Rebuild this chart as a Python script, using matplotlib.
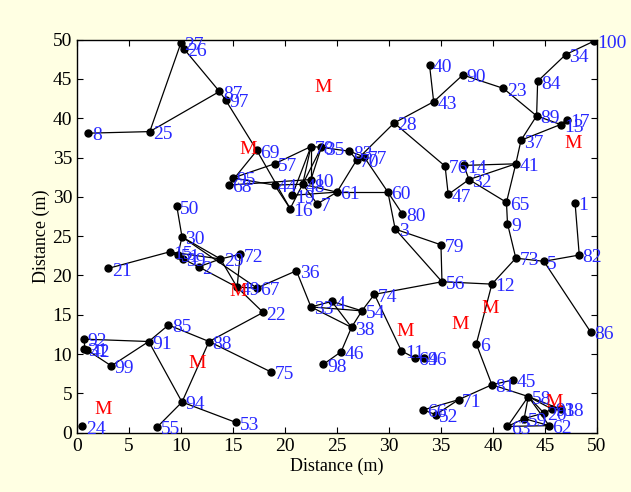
import matplotlib
matplotlib.use("Agg")
import matplotlib.pyplot as plt

# Sensor node ids and positions (m)
node_ids = [27, 26, 87, 97, 8, 25, 69, 57, 95, 68, 44, 78, 35, 83, 77, 70, 10, 48, 19, 16,
            7, 61, 60, 80, 3, 28, 40, 43, 90, 23, 89, 84, 34, 100, 17, 13, 37, 41, 76, 14,
            32, 47, 65, 9, 1, 82, 73, 5, 79, 56, 12, 86, 6, 11, 64, 96, 81, 45, 58, 18,
            93, 20, 59, 63, 62, 71, 66, 52, 92, 31, 42, 99, 91, 85, 88, 22, 75, 94, 53, 55,
            24, 50, 30, 21, 15, 51, 39, 2, 29, 72, 49, 67, 36, 33, 4, 54, 38, 46, 98, 74]
node_x = [10.0, 10.3, 13.7, 14.3, 1.1, 7.0, 17.3, 19.0, 15.0, 14.6, 19.0, 22.5, 23.5, 26.2, 27.6, 26.9, 22.5, 21.7, 20.7, 20.5,
          23.1, 25.0, 29.9, 31.3, 30.6, 30.5, 33.9, 34.3, 37.1, 41.0, 44.2, 44.3, 47.0, 49.7, 47.1, 46.5, 42.7, 42.2, 35.4, 37.2,
          37.7, 35.7, 41.3, 41.4, 47.9, 48.3, 42.2, 44.9, 35.0, 35.1, 39.9, 49.4, 38.4, 31.2, 32.5, 33.4, 39.9, 41.9, 43.4, 46.5,
          45.7, 44.9, 43.0, 41.4, 45.4, 36.7, 33.3, 34.5, 0.7, 0.7, 1.0, 3.3, 6.9, 8.8, 12.7, 17.9, 18.7, 10.1, 15.3, 7.7,
          0.5, 9.6, 10.1, 3.0, 8.9, 9.7, 10.2, 11.7, 13.8, 15.7, 15.4, 17.3, 21.1, 22.5, 24.5, 27.4, 26.4, 25.4, 23.7, 28.6]
node_y = [49.6, 48.8, 43.4, 42.3, 38.1, 38.3, 35.9, 34.2, 32.4, 31.5, 31.5, 36.4, 36.3, 35.8, 35.1, 34.7, 32.2, 31.6, 30.2, 28.5,
          29.1, 30.6, 30.6, 27.8, 25.9, 39.4, 46.8, 42.1, 45.5, 43.8, 40.3, 44.7, 48.1, 49.8, 39.8, 39.2, 37.2, 34.2, 33.9, 34.0,
          32.2, 30.3, 29.3, 26.6, 29.2, 22.6, 22.2, 21.8, 23.9, 19.2, 18.9, 12.8, 11.3, 10.4, 9.5, 9.5, 6.1, 6.7, 4.6, 3.0,
          3.0, 2.5, 1.8, 0.8, 0.9, 4.2, 2.9, 2.3, 11.9, 10.7, 10.5, 8.5, 11.6, 13.7, 11.6, 15.3, 7.7, 3.9, 1.3, 0.7,
          0.8, 28.8, 24.9, 20.9, 23.0, 22.6, 22.1, 21.1, 22.1, 22.7, 18.5, 18.4, 20.6, 16.0, 16.7, 15.5, 13.4, 10.3, 8.7, 17.6]

# Links between nodes
links = [(27, 25), (27, 26), (26, 87), (25, 87), (8, 25), (87, 97), (97, 69),
         (69, 68), (69, 16), (95, 57), (57, 78), (95, 44), (68, 10), (44, 48), (44, 16),
         (78, 19), (78, 48), (78, 10), (35, 48), (35, 10), (78, 35), (35, 83), (83, 70),
         (83, 77), (70, 61), (70, 28), (77, 60), (48, 61), (19, 61), (7, 61), (7, 48),
         (16, 48), (61, 60), (60, 80), (60, 3), (3, 79), (3, 56), (79, 56), (56, 74),
         (56, 12), (74, 54), (74, 11), (11, 64), (64, 96),
         (28, 43), (28, 76), (43, 40), (43, 90), (90, 23), (23, 89), (89, 84), (84, 34),
         (34, 100), (89, 13), (13, 17), (89, 37), (37, 13), (37, 41), (14, 41), (32, 41),
         (14, 32), (47, 32), (76, 47), (32, 65), (41, 65), (65, 9), (9, 73), (73, 12),
         (73, 5), (5, 82), (82, 1), (5, 86), (12, 6), (6, 81), (81, 45), (81, 58),
         (81, 71), (71, 66), (71, 52), (66, 52), (58, 18), (58, 93), (58, 20), (58, 59),
         (58, 63), (58, 62), (59, 63), (59, 62), (63, 62), (59, 20), (20, 93), (93, 18),
         (92, 91), (92, 31), (31, 42), (42, 99), (99, 91), (91, 85), (91, 94), (85, 88),
         (88, 22), (88, 94), (88, 75), (94, 55), (94, 53), (22, 49),
         (21, 15), (50, 30), (15, 51), (15, 39), (15, 29), (30, 51), (30, 29), (30, 67),
         (39, 2), (2, 49), (2, 29), (29, 72), (29, 49), (72, 49), (49, 67), (67, 36),
         (36, 33), (33, 4), (33, 54), (33, 38), (4, 54), (4, 38), (54, 38), (38, 46),
         (46, 98)]

# Mobile sink positions
sink_x = [23.65, 16.45, 47.7, 15.5, 31.6, 36.8, 39.7, 45.9, 11.6, 2.5]
sink_y = [43.85, 36.0, 36.8, 17.9, 12.9, 13.8, 15.8, 3.9, 8.8, 2.9]

ticks = list(range(0, 51, 5))

plt.rcParams['font.family'] = ['Liberation Serif', 'DejaVu Serif']

fig = plt.figure(figsize=(6.31, 4.92), dpi=100, facecolor='#FFFFE3')
ax = fig.add_axes([0.122, 0.1205, 0.824, 0.799])
ax.set_facecolor('white')

pos = {n: (x, y) for n, x, y in zip(node_ids, node_x, node_y)}
for a, b in links:
    ax.plot([pos[a][0], pos[b][0]], [pos[a][1], pos[b][1]], color='black', lw=0.9, zorder=1)

ax.plot(node_x, node_y, 'o', color='black', ms=5, zorder=2)
for n, x, y in zip(node_ids, node_x, node_y):
    ax.annotate(str(n), (x, y), xytext=(2.5, -2), textcoords='offset points',
                ha='left', va='center', color='#2828FF', fontsize=14, zorder=3)

for x, y in zip(sink_x, sink_y):
    ax.text(x, y, 'M', color='red', fontsize=14, ha='center', va='center', zorder=3)

ax.set_xlim(0, 50)
ax.set_ylim(0, 50)
ax.set_xticks(ticks)
ax.set_yticks(ticks)
ax.tick_params(direction='in', top=True, right=True, length=4, width=0.8, labelsize=14)
for s in ax.spines.values():
    s.set_linewidth(1.0)
ax.set_xlabel('Distance (m)', fontsize=13, labelpad=2)
ax.set_ylabel('Distance (m)', fontsize=13, labelpad=2)

fig.savefig('out.png', dpi=100, facecolor=fig.get_facecolor())
